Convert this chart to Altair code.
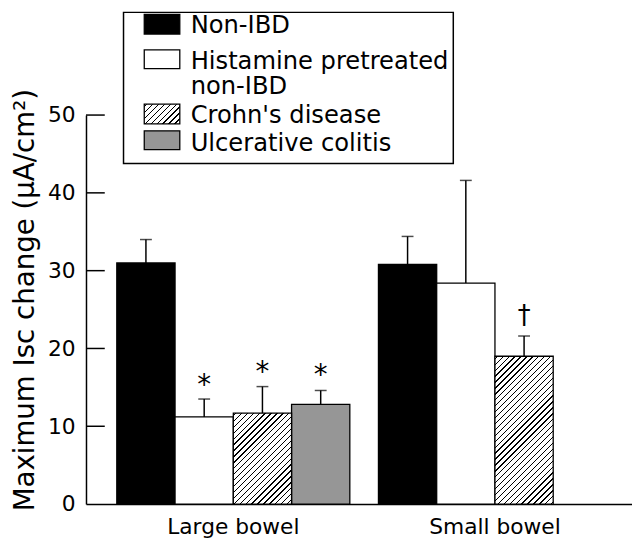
import altair as alt
import pandas as pd

# ---------------- data ----------------
groups = ["Large bowel", "Small bowel"]
series = ["Non-IBD", "Histamine pretreated non-IBD", "Crohn's disease", "Ulcerative colitis"]

bar_group = ["Large bowel", "Large bowel", "Large bowel", "Large bowel",
             "Small bowel", "Small bowel", "Small bowel"]
bar_series = [series[0], series[1], series[2], series[3],
              series[0], series[1], series[2]]
means = [31.0, 11.2, 11.7, 12.8, 30.8, 28.4, 19.0]
upper = [34.0, 13.5, 15.1, 14.6, 34.4, 41.6, 21.6]

star_group = ["Large bowel", "Large bowel", "Large bowel"]
star_series = [series[1], series[2], series[3]]
star_y = [16.2, 17.8, 17.4]

dagger_group = ["Small bowel"]
dagger_series = [series[2]]
dagger_y = [24.2]

y_ticks = [0, 10, 20, 30, 40, 50]
legend_labels = ["Non-IBD", "Histamine pretreated", "non-IBD", "Crohn's disease", "Ulcerative colitis"]
fill_colors = ["black", "white", "white", "#969696"]

# ---------------- layout / style ----------------
W, H = 553, 394
YMAX = 50
PX = H / YMAX
BAR_W = 59
FONT = "DejaVu Sans"


def hatch(w, h, period=6.0, line=1.3):
    total = w + h
    c = total / (w * w + h * h)
    stops = [alt.GradientStop(offset=0, color="white")]
    f = 2.0
    while f < total:
        a = f / total
        b = min((f + line) / total, 1.0)
        stops += [
            alt.GradientStop(offset=a, color="white"),
            alt.GradientStop(offset=a, color="black"),
            alt.GradientStop(offset=b, color="black"),
            alt.GradientStop(offset=b, color="white"),
        ]
        f += period
    stops.append(alt.GradientStop(offset=1, color="white"))
    return alt.LinearGradient(gradient="linear", stops=stops, x1=0, y1=0, x2=c * w, y2=c * h)


df = pd.DataFrame({"group": bar_group, "series": bar_series, "mean": means, "upper": upper})
stars = pd.DataFrame({"group": star_group, "series": star_series, "y": star_y, "t": ["*"] * len(star_y)})
daggers = pd.DataFrame({"group": dagger_group, "series": dagger_series, "y": dagger_y, "t": ["†"] * len(dagger_y)})
ticks_df = pd.DataFrame({"tick": y_ticks[1:]})
one = pd.DataFrame({"k": [0]})

x_enc = alt.X(
    "group:N",
    scale=alt.Scale(domain=groups, paddingInner=0.1094, paddingOuter=0.0981, align=0.6),
    axis=alt.Axis(title=None, labelAngle=0, ticks=False, tickSize=0, labelPadding=13,
                  labelFontSize=22, labelFont=FONT, labelColor="black",
                  domainColor="black", domainWidth=1.5),
)
xo_enc = alt.XOffset("series:N", scale=alt.Scale(domain=series, paddingInner=0, paddingOuter=0))

y_scale = alt.Scale(domain=[0, YMAX], nice=False)
y_axis = alt.Axis(
    values=y_ticks, ticks=False, tickSize=0, grid=False, labelPadding=11,
    labelFontSize=22, labelFont=FONT, labelColor="black",
    domainColor="black", domainWidth=1.5,
    title="Maximum Isc change (µA/cm²)", titleFont=FONT, titleFontSize=28,
    titleFontWeight="normal", titleColor="black", titleAngle=270,
    titleX=-53, titleY=187, titleAlign="center", titleBaseline="alphabetic",
)


def Y(field):
    return alt.Y(field, type="quantitative", scale=y_scale, axis=y_axis)


base = alt.Chart(df)

plain_bars = base.transform_filter(
    alt.datum.series != series[2]
).mark_bar(stroke="black", strokeWidth=1.3).encode(
    x=x_enc, xOffset=xo_enc, y=Y("mean"),
    fill=alt.Fill("series:N", scale=alt.Scale(domain=series, range=fill_colors), legend=None),
)

hatched_layers = []
for g, s, m in zip(bar_group, bar_series, means):
    if s == series[2]:
        hatched_layers.append(
            base.transform_filter(
                (alt.datum.series == s) & (alt.datum.group == g)
            ).mark_bar(fill=hatch(BAR_W, m * PX), stroke="black", strokeWidth=1.3).encode(
                x=x_enc, xOffset=xo_enc, y=Y("mean")
            )
        )

err_rule = base.mark_rule(color="black", strokeWidth=1.5).encode(
    x=x_enc, xOffset=xo_enc, y=Y("mean"), y2="upper:Q"
)
err_cap = base.mark_tick(color="black", thickness=1.5, size=12).encode(
    x=x_enc, xOffset=xo_enc, y=Y("upper")
)

star_layer = alt.Chart(stars).mark_text(font=FONT, fontSize=28, color="black", baseline="middle", dy=8).encode(
    x=x_enc, xOffset=xo_enc, y=Y("y"), text="t:N"
)
dagger_layer = alt.Chart(daggers).mark_text(font=FONT, fontSize=26, color="black", baseline="middle", dy=0).encode(
    x=x_enc, xOffset=xo_enc, y=Y("y"), text="t:N"
)

inward_ticks = alt.Chart(ticks_df).mark_rule(color="black", strokeWidth=1.5).encode(
    y=Y("tick"), x=alt.value(0), x2=alt.value(19)
)

# ---------------- legend ----------------
leg = alt.Chart(one)
legend_box = leg.mark_rect(fill="white", stroke="black", strokeWidth=1.5).encode(
    x=alt.value(38), x2=alt.value(372), y=alt.value(-104), y2=alt.value(49)
)
sw_rows = [(-102, -82), (-66, -47), (-11, 9), (16, 35)]
txt_y = [-83, -47, -21, 8, 36]
legend_layers = [legend_box]
for i, col in enumerate(fill_colors):
    y1, y2 = sw_rows[i]
    fill = hatch(36, y2 - y1) if i == 2 else col
    legend_layers.append(
        leg.mark_rect(fill=fill, stroke="black", strokeWidth=1.3).encode(
            x=alt.value(59), x2=alt.value(95), y=alt.value(y1), y2=alt.value(y2)
        )
    )
for lab, ty in zip(legend_labels, txt_y):
    legend_layers.append(
        leg.mark_text(font=FONT, fontSize=24.5, color="black", align="left", baseline="alphabetic").encode(
            x=alt.value(106), y=alt.value(ty), text=alt.value(lab)
        )
    )

chart = alt.layer(
    plain_bars, *hatched_layers, err_rule, err_cap, star_layer, dagger_layer, inward_ticks, *legend_layers
).properties(
    width=W, height=H,
    padding={"left": 79, "top": 105, "right": 0, "bottom": 36},
    autosize=alt.AutoSizeParams(type="none"),
    background="white",
).configure_view(stroke="transparent")

chart.save("out.html", embed_options={"renderer": "svg", "actions": False})
